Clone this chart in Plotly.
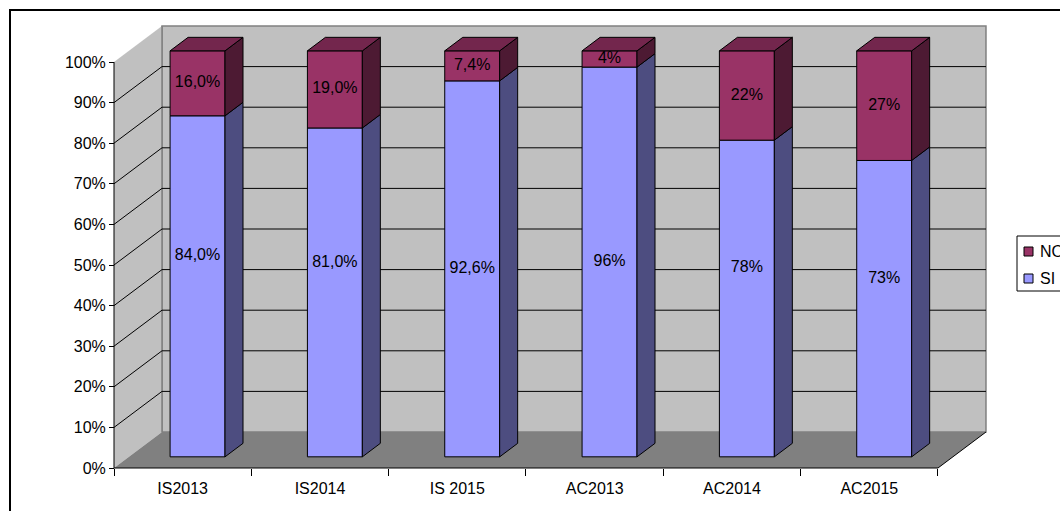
import plotly.graph_objects as go

# ---- data ----
categories = ["IS2013", "IS2014", "IS 2015", "AC2013", "AC2014", "AC2015"]
si_values = [84.0, 81.0, 92.6, 96, 78, 73]
no_values = [16.0, 19.0, 7.4, 4, 22, 27]
si_labels = ["84,0%", "81,0%", "92,6%", "96%", "78%", "73%"]
no_labels = ["16,0%", "19,0%", "7,4%", "4%", "22%", "27%"]
series_names = ["NO", "SI"]
y_ticks = list(range(0, 101, 10))

# ---- style / geometry ----
FONT = "Liberation Sans, Arial, sans-serif"
SI_FRONT, SI_SIDE = "#9999FF", "#4D4D80"
NO_FRONT, NO_SIDE, NO_TOP = "#993366", "#4D1A33", "#73264D"
WALL, FLOOR, EDGE = "#C0C0C0", "#808080", "#808080"

# where the SI data labels sit on the bars (as in the original chart)
SI_LABEL_Y = [49.5, 47.7, 46.3, 48.0, 46.5, 43.8]

W, H = 1060, 511
ML, MR, MT, MB = 100, 70, 20, 35
X0PX, UNITPX = 114, 137.33   # x=0 pixel, one category = 137.33 px
Y0PX, PCTPX = 468, 4.06      # 0% pixel, 1% = 4.06 px
plot_w = W - ML - MR
plot_h = H - MT - MB
xr = [(ML - X0PX) / UNITPX, (W - MR - X0PX) / UNITPX]
yr = [(Y0PX - (H - MB)) / PCTPX, (Y0PX - MT) / PCTPX]

DX = 48 / UNITPX     # depth offset in x units
DY = 36 / PCTPX      # depth offset in % units
F0, F1 = 0.31, 0.685  # bar depth range (fraction of depth)
BW = 0.4
n = len(categories)

def px(xp, yp):
    # page pixel -> paper coords
    return (xp - ML) / plot_w, (H - MB - yp) / plot_h

bx0 = F0 * DX
by0 = F0 * DY
ddx = (F1 - F0) * DX
ddy = (F1 - F0) * DY
centers = [i + 0.5 + bx0 for i in range(n)]

fig = go.Figure()

# front faces
fig.add_trace(go.Bar(x=centers, y=si_values, base=[by0] * n, width=BW,
                     marker=dict(color=SI_FRONT, line=dict(color="black", width=1)),
                     name="SI", showlegend=False, hoverinfo="skip"))
fig.add_trace(go.Bar(x=centers, y=no_values, base=[by0 + s for s in si_values], width=BW,
                     marker=dict(color=NO_FRONT, line=dict(color="black", width=1)),
                     name="NO", showlegend=False, hoverinfo="skip"))

def side_poly(lows, highs):
    xs, ys = [], []
    for c, lo, hi in zip(centers, lows, highs):
        r = c + BW / 2
        xs += [r, r + ddx, r + ddx, r, r, None]
        ys += [lo, lo + ddy, hi + ddy, hi, lo, None]
    return xs, ys

def top_poly(tops):
    xs, ys = [], []
    for c, t in zip(centers, tops):
        l, r = c - BW / 2, c + BW / 2
        xs += [l, r, r + ddx, l + ddx, l, None]
        ys += [t, t, t + ddy, t + ddy, t, None]
    return xs, ys

si_top = [by0 + s for s in si_values]
no_top = [by0 + s + o for s, o in zip(si_values, no_values)]

for (xs, ys), col in [(side_poly([by0] * n, si_top), SI_SIDE),
                      (side_poly(si_top, no_top), NO_SIDE),
                      (top_poly(no_top), NO_TOP)]:
    fig.add_trace(go.Scatter(x=xs, y=ys, mode="lines", fill="toself", fillcolor=col,
                             line=dict(color="black", width=1), showlegend=False,
                             hoverinfo="skip"))

# labels
fig.add_trace(go.Scatter(x=centers, y=[by0 + v for v in SI_LABEL_Y], mode="text",
                         text=si_labels, textfont=dict(family=FONT, size=16, color="black"),
                         showlegend=False, hoverinfo="skip"))
fig.add_trace(go.Scatter(x=centers, y=[by0 + s + o / 2 for s, o in zip(si_values, no_values)],
                         mode="text", text=no_labels,
                         textfont=dict(family=FONT, size=16, color="black"),
                         showlegend=False, hoverinfo="skip"))

# ---- walls, floor, gridlines ----
shapes = []
shapes.append(dict(type="rect", xref="x", yref="y", x0=DX, x1=n + DX, y0=DY, y1=100 + DY,
                   fillcolor=WALL, line=dict(color=EDGE, width=1.5), layer="below"))
shapes.append(dict(type="path", xref="x", yref="y",
                   path=f"M0,0 L{DX},{DY} L{DX},{100 + DY} L0,100 Z",
                   fillcolor=WALL, line=dict(width=0), layer="below"))
shapes.append(dict(type="line", xref="x", yref="y", x0=DX, x1=DX, y0=DY, y1=100 + DY,
                   line=dict(color=EDGE, width=1.5), layer="below"))
shapes.append(dict(type="path", xref="x", yref="y",
                   path=f"M0,0 L{n},0 L{n + DX},{DY} L{DX},{DY} Z",
                   fillcolor=FLOOR, line=dict(width=0), layer="below"))
for v in y_ticks[1:-1]:
    shapes.append(dict(type="line", xref="x", yref="y", x0=DX, x1=n + DX, y0=v + DY, y1=v + DY,
                       line=dict(color="black", width=1), layer="below"))
    shapes.append(dict(type="line", xref="x", yref="y", x0=0, x1=DX, y0=v, y1=v + DY,
                       line=dict(color="black", width=1), layer="below"))
shapes.append(dict(type="line", xref="x", yref="y", x0=0, x1=n, y0=0, y1=0,
                   line=dict(color="black", width=1), layer="below"))
shapes.append(dict(type="line", xref="x", yref="y", x0=n, x1=n + DX, y0=0, y1=DY,
                   line=dict(color="black", width=1), layer="below"))
shapes.append(dict(type="line", xref="x", yref="y", x0=0, x1=0, y0=0, y1=100,
                   line=dict(color="black", width=1), layer="below"))

# outer frame
fx0, fy0 = px(10, 10)
fx1, fy1 = px(1080, 530)
shapes.append(dict(type="rect", xref="paper", yref="paper", x0=fx0, x1=fx1, y0=fy1, y1=fy0,
                   line=dict(color="black", width=2), fillcolor="rgba(0,0,0,0)"))

# legend (box, swatches, names)
lx0, ly0 = px(1017, 236)
lx1, ly1 = px(1090, 291)
shapes.append(dict(type="rect", xref="paper", yref="paper", x0=lx0, x1=lx1, y0=ly1, y1=ly0,
                   line=dict(color="black", width=1), fillcolor="white"))
annotations = []
for name, col, cy in zip(series_names, [NO_FRONT, SI_FRONT], [251.5, 278.5]):
    sx0, sy0 = px(1024, cy - 4.5)
    sx1, sy1 = px(1033, cy + 4.5)
    shapes.append(dict(type="rect", xref="paper", yref="paper", x0=sx0, x1=sx1, y0=sy1, y1=sy0,
                       line=dict(color="black", width=1), fillcolor=col))
    tx, ty = px(1038, cy)
    annotations.append(dict(xref="paper", yref="paper", x=tx, y=ty, text=name, showarrow=False,
                            xanchor="left", yanchor="middle",
                            font=dict(family=FONT, size=16, color="black")))

fig.update_layout(
    width=W, height=H,
    margin=dict(l=ML, r=MR, t=MT, b=MB),
    paper_bgcolor="white", plot_bgcolor="white",
    barmode="overlay", showlegend=False,
    shapes=shapes, annotations=annotations,
    font=dict(family=FONT, size=16, color="black"),
    xaxis=dict(range=xr, anchor="free", position=(H - MB - Y0PX) / plot_h,
               tickmode="array", tickvals=[i + 0.5 for i in range(n)], ticktext=categories,
               ticks="", showgrid=False, zeroline=False, showline=False,
               ticklabelstandoff=9,
               tickfont=dict(family=FONT, size=16, color="black"),
               minor=dict(tickmode="array", tickvals=list(range(n + 1)), ticks="outside",
                          ticklen=7, tickcolor="black", tickwidth=1, showgrid=False)),
    yaxis=dict(range=yr, anchor="free", position=(X0PX - ML) / plot_w,
               tickmode="array", tickvals=y_ticks, ticktext=[f"{v}%" for v in y_ticks],
               ticks="outside", ticklen=5, tickcolor="black", tickwidth=1,
               showgrid=False, zeroline=False, showline=False,
               tickfont=dict(family=FONT, size=16, color="black")),
)

fig.write_html("out.html", config={"displayModeBar": False},
               post_script="document.body.style.margin='0';document.body.style.overflow='hidden';")
